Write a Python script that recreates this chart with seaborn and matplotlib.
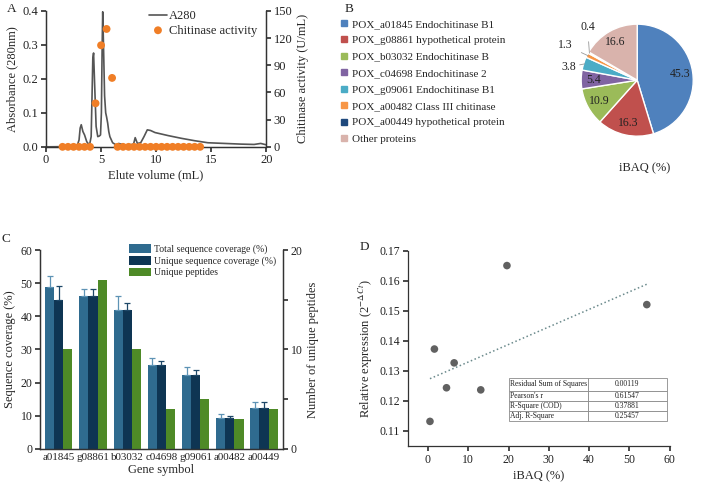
import numpy as np
import pandas as pd
import seaborn as sns
import matplotlib.pyplot as plt
from matplotlib.lines import Line2D
from matplotlib.patches import Patch
from matplotlib.ticker import FormatStrFormatter

sns.set_theme(style='ticks')
plt.rcParams['font.family'] = ['Liberation Serif', 'DejaVu Serif']
plt.rcParams['mathtext.fontset'] = 'stix'
plt.rcParams['axes.edgecolor'] = '#333333'
plt.rcParams['axes.linewidth'] = 0.9
plt.rcParams['xtick.color'] = '#333333'
plt.rcParams['ytick.color'] = '#333333'
plt.rcParams['xtick.labelcolor'] = '#222222'
plt.rcParams['ytick.labelcolor'] = '#222222'
plt.rcParams['xtick.major.size'] = 3.5
plt.rcParams['ytick.major.size'] = 3.5

# ---- panel A data: elution profile
elute_vol = [0, 2.8, 3.0, 3.1, 3.2, 3.35, 3.5, 3.7, 3.95, 4.1, 4.18, 4.25, 4.32, 4.42, 4.55,
             4.7, 4.85, 4.95, 5.03, 5.1, 5.15, 5.22, 5.32, 5.42, 5.5, 5.6, 5.7, 5.8, 6.05,
             6.4, 6.6, 7.0, 7.5, 7.95, 8.1, 8.3, 8.6, 8.9, 9.2, 9.5, 9.9, 11.1, 12.3, 13.5,
             14.7, 16.2, 17.7, 18.9, 19.5, 20]
a280 = [0, 0.001, 0.02, 0.055, 0.065, 0.045, 0.035, 0.015, 0.005, 0.03, 0.15, 0.26, 0.276,
        0.18, 0.06, 0.03, 0.032, 0.035, 0.1, 0.3, 0.397, 0.3, 0.15, 0.1, 0.088, 0.07, 0.045,
        0.03, 0.012, 0.005, 0.01, 0.006, 0.005, 0.008, 0.027, 0.01, 0.012, 0.03, 0.05, 0.048,
        0.042, 0.033, 0.025, 0.018, 0.012, 0.01, 0.008, 0.007, 0.01, 0.006]
act_vol = [1.5, 2.0, 2.5, 3.0, 3.5, 4.0, 4.5, 5.0, 5.5, 6.0, 6.5, 7.0, 7.5, 8.0, 8.5, 9.0,
           9.5, 10.0, 10.5, 11.0, 11.5, 12.0, 12.5, 13.0, 13.5, 14.0]
activity = [0, 0, 0, 0, 0, 0, 48, 112, 130, 76, 0, 0, 0, 0, 0, 0,
            0, 0, 0, 0, 0, 0, 0, 0, 0, 0]

# ---- panel B data: iBAQ share
proteins = ['POX_a01845 Endochitinase B1', 'POX_g08861 hypothetical protein',
            'POX_b03032 Endochitinase B', 'POX_c04698 Endochitinase 2',
            'POX_g09061 Endochitinase B1', 'POX_a00482 Class III chitinase',
            'POX_a00449 hypothetical protein', 'Other proteins']
ibaq_share = [45.3, 16.3, 10.9, 5.4, 3.8, 1.3, 0.4, 16.6]
pie_colors = ['#4F81BD', '#C0504D', '#9BBB59', '#8064A2', '#4BACC6', '#F79646',
              '#1F497D', '#D9B3AC']

# ---- panel C data: coverage
genes = ['a01845', 'g08861', 'b03032', 'c04698', 'g09061', 'a00482', 'a00449']
total_cov = [48.9, 46.2, 41.9, 25.3, 22.2, 9.4, 12.3]
total_err = [3.2, 2.1, 4.1, 2.0, 2.4, 1.1, 2.0]
unique_cov = [45.0, 46.2, 42.0, 25.3, 22.2, 9.4, 12.3]
unique_err = [4.2, 2.1, 2.0, 1.3, 1.5, 0.5, 1.9]
unique_pep = [10, 17, 10, 4, 5, 3, 4]
series = ['Total sequence coverage (%)', 'Unique sequence coverage (%)', 'Unique peptides']
bar_colors = ['#2F6B8F', '#0E3553', '#4E8A27']

# ---- panel D data: correlation
ibaq_x = [0.5, 1.6, 4.6, 6.5, 13.1, 19.6, 54.3]
rel_expr = [0.1132, 0.1373, 0.1244, 0.1327, 0.1237, 0.1651, 0.1521]
fit_stats = [['Residual Sum of Squares', '0.00119'],
             ["Pearson's r", '0.61547'],
             ['R-Square (COD)', '0.37881'],
             ['Adj. R-Square', '0.25457']]

fig = plt.figure(figsize=(7.08, 4.83), dpi=100)
fs = 9

# %% panel A
axA = fig.add_axes([0.065, 0.696, 0.311, 0.2816])
sns.lineplot(x=elute_vol, y=a280, ax=axA, color='#555555', lw=1.2, label='A280')
axA2 = axA.twinx()
sns.scatterplot(x=act_vol, y=activity, ax=axA2, color='#F07E26', s=32, edgecolor='none',
                label='Chitinase activity', clip_on=False, zorder=5)
for a in (axA, axA2):
    if a.get_legend() is not None:
        a.get_legend().remove()
axA.set_xlim(0, 20)
axA.set_ylim(0, 0.4)
axA.set_xticks([0, 5, 10, 15, 20])
axA.set_yticks([0, 0.1, 0.2, 0.3, 0.4])
axA.yaxis.set_major_formatter(FormatStrFormatter('%.1f'))
axA2.set_ylim(0, 150)
axA2.set_yticks([0, 30, 60, 90, 120, 150])
axA.set_xlabel('Elute volume (mL)', fontsize=fs, labelpad=2)
axA.set_ylabel('Absorbance (280nm)', fontsize=fs, labelpad=3)
axA2.set_ylabel('Chitinase activity (U/mL)', fontsize=fs, labelpad=3)
axA.tick_params(labelsize=fs, pad=2)
axA2.tick_params(labelsize=fs, pad=2)
axA.spines['top'].set_visible(False)
axA2.spines['top'].set_visible(False)
h1, l1 = axA.get_legend_handles_labels()
h2, l2 = axA2.get_legend_handles_labels()
axA2.legend(h1 + h2, l1 + l2, loc='upper right', bbox_to_anchor=(1.0, 1.07), frameon=False,
            fontsize=fs, handlelength=1.4, handletextpad=0.2, labelspacing=0.2, borderpad=0.2)

# %% panel B
axB = fig.add_axes([0.801, 0.689, 0.198, 0.290])
wedges, _ = axB.pie(ibaq_share, colors=pie_colors, startangle=90, counterclock=False,
                    wedgeprops=dict(edgecolor='white', linewidth=1))
axB.set_aspect('equal')
# text placement for slices too small to hold their label (radius, angle)
outside = {4: (1.24, 169), 5: (1.42, 154), 6: (1.3, 133)}
for i, w in enumerate(wedges):
    mid = np.deg2rad((w.theta1 + w.theta2) / 2)
    if i in outside:
        r, ang = outside[i]
        ang = np.deg2rad(ang)
        axB.annotate(f'{ibaq_share[i]}', xy=(0.98 * np.cos(mid), 0.98 * np.sin(mid)),
                     xytext=(r * np.cos(ang), r * np.sin(ang)), ha='center', va='center',
                     fontsize=8.5, color='#222222',
                     arrowprops=dict(arrowstyle='-', color='#999999', lw=0.6,
                                     shrinkA=4, shrinkB=0))
    else:
        axB.text(0.78 * np.cos(mid), 0.78 * np.sin(mid), f'{ibaq_share[i]}',
                 ha='center', va='center', fontsize=8.5, color='#222222')
fig.text(645 / 708, 1 - 168 / 483, 'iBAQ (%)', ha='center', va='center', fontsize=fs)
handles = [Line2D([], [], marker='s', ls='none', markersize=4.2, color=c) for c in pie_colors]
fig.legend(handles, proteins, loc='upper left', bbox_to_anchor=(341 / 708, 1 - 19 / 483),
           frameon=False, fontsize=8, handlelength=0.6, handletextpad=0.35,
           labelspacing=0.6, borderpad=0, borderaxespad=0)

# %% panel C
axC = fig.add_axes([0.0565, 0.0704, 0.343, 0.412])
axC2 = axC.twinx()
cov_df = pd.DataFrame({'gene': genes * 3,
                       'series': np.repeat(series, len(genes)),
                       'value': total_cov + unique_cov + [np.nan] * len(genes)})
pep_df = pd.DataFrame({'gene': genes * 3,
                       'series': np.repeat(series, len(genes)),
                       'value': [np.nan] * (2 * len(genes)) + unique_pep})
sns.barplot(data=cov_df, x='gene', y='value', hue='series', hue_order=series,
            palette=bar_colors, saturation=1, errorbar=None, width=0.8, linewidth=0,
            ax=axC, legend=False)
sns.barplot(data=pep_df, x='gene', y='value', hue='series', hue_order=series,
            palette=bar_colors, saturation=1, errorbar=None, width=0.8, linewidth=0,
            ax=axC2, legend=False)
for cont, vals, errs, ec in [(axC.containers[0], total_cov, total_err, '#5E93B5'),
                             (axC.containers[1], unique_cov, unique_err, '#1E4868')]:
    xs = [p.get_x() + p.get_width() / 2 for p in cont]
    axC.errorbar(xs, vals, yerr=[np.zeros(len(errs)), errs], fmt='none', ecolor=ec,
                 elinewidth=0.9, capsize=2.2, capthick=0.9)
axC.set_ylim(0, 60)
axC.set_yticks(range(0, 61, 10))
axC2.set_ylim(0, 20)
axC2.set_yticks([0, 5, 10, 15, 20])
axC2.set_yticklabels(['0', '', '10', '', '20'])
axC.set_xlabel('Gene symbol', fontsize=fs, labelpad=1)
axC.set_ylabel('Sequence coverage (%)', fontsize=fs, labelpad=3)
axC2.set_ylabel('Number of unique peptides', fontsize=fs, labelpad=3)
axC.tick_params(labelsize=8.5, pad=2)
axC2.tick_params(labelsize=8.5, pad=2)
axC.tick_params(axis='x', length=0, pad=3, labelsize=7.9)
axC.spines['top'].set_visible(False)
axC2.spines['top'].set_visible(False)
axC.set_xlim(-0.55, 6.55)
leg_h = [Patch(facecolor=c, edgecolor='none') for c in bar_colors]
fig.legend(leg_h, series, loc='upper left', bbox_to_anchor=(129 / 708, 1 - 244 / 483),
           frameon=False, fontsize=7, handlelength=2.3, handleheight=1.0,
           handletextpad=0.3, labelspacing=0.2, borderpad=0, borderaxespad=0)

# %% panel D
axD = fig.add_axes([0.576, 0.0766, 0.370, 0.404])
sns.regplot(x=ibaq_x, y=rel_expr, ax=axD, ci=None,
            scatter_kws=dict(s=30, color='#3A3A3A', edgecolor='none'),
            line_kws=dict(color='#6B8A8C', ls=':', lw=1.1))
axD.set_xlim(-5, 60)
axD.set_ylim(0.105, 0.17)
axD.set_xticks(range(0, 61, 10))
axD.set_yticks([0.11, 0.12, 0.13, 0.14, 0.15, 0.16, 0.17])
axD.yaxis.set_major_formatter(FormatStrFormatter('%.2f'))
axD.set_xlabel('iBAQ (%)', fontsize=fs, labelpad=3)
axD.set_ylabel(r'Relative expression (2$^{-\Delta Ct}$)', fontsize=fs, labelpad=3)
axD.tick_params(labelsize=8.5, pad=2)
sns.despine(ax=axD)
tbl = axD.table(cellText=fit_stats, bbox=[0.385, 0.128, 0.604, 0.221], cellLoc='center')
tbl.auto_set_font_size(False)
tbl.set_fontsize(5.5)
for (r, c), cell in tbl.get_celld().items():
    cell.set_edgecolor('#8A8A8A')
    cell.set_linewidth(0.6)
    cell.get_text().set_color('#222222')
    cell.set_height(1.3 if r == 0 else 1.0)
    if c == 0:
        cell.get_text().set_ha('left')
        cell.PAD = 0.02

# panel letters
for lab, x, y in [('A', 7, 3), ('B', 345, 3), ('C', 2, 233), ('D', 360, 241)]:
    fig.text(x / 708, 1 - y / 483, lab, fontsize=9.5, va='top', ha='left')

fig.savefig('out.png', dpi=100)
